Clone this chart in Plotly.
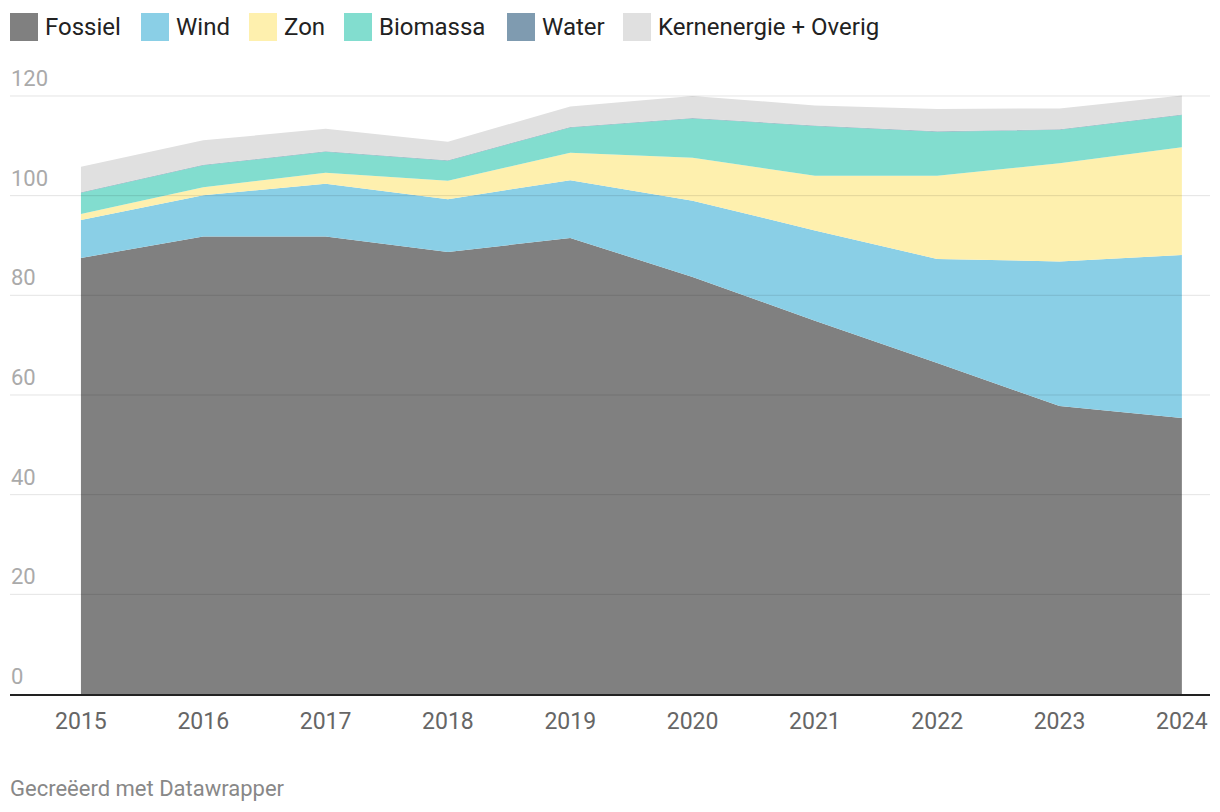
import plotly.graph_objects as go

# ---------------- data ----------------
years = [2015, 2016, 2017, 2018, 2019, 2020, 2021, 2022, 2023, 2024]
fossiel = [87.5, 91.8, 91.8, 88.7, 91.5, 83.7, 74.9, 66.4, 57.8, 55.4]
wind = [7.6, 8.3, 10.6, 10.6, 11.6, 15.3, 18.1, 20.9, 29.0, 32.7]
zon = [1.2, 1.6, 2.2, 3.7, 5.5, 8.6, 11.0, 16.7, 19.7, 21.6]
biomassa = [4.3, 4.4, 4.2, 4.0, 5.1, 7.9, 10.0, 8.8, 6.7, 6.5]
water = [0.1, 0.1, 0.1, 0.1, 0.1, 0.1, 0.1, 0.1, 0.1, 0.1]
kern_overig = [5.1, 4.9, 4.5, 3.7, 4.1, 4.4, 4.0, 4.5, 4.2, 3.8]

series_names = ["Fossiel", "Wind", "Zon", "Biomassa", "Water", "Kernenergie + Overig"]
series_values = [fossiel, wind, zon, biomassa, water, kern_overig]
series_colors = ["#808080", "#8acfe6", "#fef0ae", "#82ddcf", "#7f9bb0", "#e0e0e0"]

y_ticks = [0, 20, 40, 60, 80, 100, 120]
footer_text = "Gecreëerd met Datawrapper"

# ---------------- layout constants ----------------
OFF = 8  # browser body margin
WIN_W, WIN_H = 1220, 812
W, H = WIN_W - OFF, WIN_H - OFF
# plot area in window pixels: x 10..1210, y(0)=694, top of range at 91
PX_L, PX_R, PX_T, PX_B = 10, 1210, 91, 694
M_L, M_R, M_T, M_B = PX_L - OFF, WIN_W - PX_R, PX_T - OFF, WIN_H - PX_B
PLOT_W = PX_R - PX_L
PLOT_H = PX_B - PX_T
FONT = "Roboto"


def px_x(px):
    return (px - PX_L) / PLOT_W


def px_y(py):
    return (PX_B - py) / PLOT_H


legend_swatch_px = [10, 141, 249, 344, 507, 623]

fig = go.Figure()
for name, vals, color in zip(series_names, series_values, series_colors):
    fig.add_trace(go.Scatter(
        x=years, y=vals, name=name, stackgroup="one", mode="none",
        fillcolor=color, line=dict(width=0), showlegend=False,
        hoverinfo="x+y+name",
    ))

shapes = []
annotations = []

# gridlines drawn above the areas (as in the reference)
for t in y_ticks[1:]:
    shapes.append(dict(type="line", xref="paper", yref="y", x0=0, x1=1, y0=t, y1=t,
                       line=dict(color="rgba(0,0,0,0.11)", width=1), layer="above"))
for t in y_ticks:
    annotations.append(dict(xref="paper", yref="y", x=0, y=t, xanchor="left", yanchor="bottom",
                            yshift=3, xshift=-1, text=str(t), showarrow=False,
                            font=dict(family=FONT, size=22, color="#aaaaaa")))

# legend
for name, color, sx in zip(series_names, series_colors, legend_swatch_px):
    shapes.append(dict(type="rect", xref="paper", yref="paper",
                       x0=px_x(sx), x1=px_x(sx + 28), y0=px_y(41), y1=px_y(13),
                       fillcolor=color, line=dict(width=0), layer="above"))
    annotations.append(dict(xref="paper", yref="paper", x=px_x(sx + 33), y=px_y(27),
                            xanchor="left", yanchor="middle", text=name, showarrow=False,
                            font=dict(family=FONT, size=24, color="#222222")))

# footer
annotations.append(dict(xref="paper", yref="paper", x=0, y=px_y(788), xanchor="left",
                        yanchor="middle", xshift=-2, text=footer_text, showarrow=False,
                        font=dict(family=FONT, size=22, color="#888888")))

fig.update_layout(
    width=W, height=H,
    margin=dict(l=M_L, r=M_R, t=M_T, b=M_B, autoexpand=False),
    paper_bgcolor="white", plot_bgcolor="white",
    font=dict(family=FONT),
    showlegend=False,
    shapes=shapes, annotations=annotations,
    xaxis=dict(range=[2014.42, 2024.23], tickvals=years, ticktext=[str(y) for y in years],
               showgrid=False, zeroline=False, showline=True, linecolor="#222222", linewidth=2,
               ticks="", ticklabelstandoff=5,
               tickfont=dict(family=FONT, size=23, color="#666666"), layer="above traces"),
    yaxis=dict(range=[0, 121], showgrid=False, zeroline=False, showticklabels=False,
               ticks="", showline=False),
)

fig.write_html("out.html")
